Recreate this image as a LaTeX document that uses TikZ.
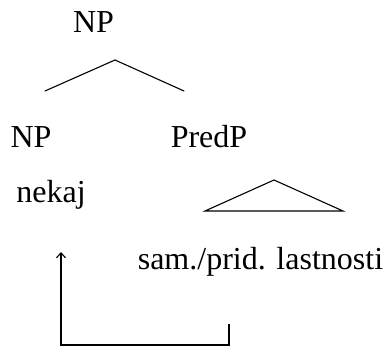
\documentclass[tikz,border=0pt]{standalone}
\usepackage{fontspec}
\setmainfont{Liberation Serif}
\usetikzlibrary{arrows.meta}
\begin{document}
\begin{tikzpicture}[x=1pt,y=-1pt,
  lbl/.style={anchor=base,inner sep=0pt,font=\fontsize{32}{38}\selectfont},
  edge/.style={line width=1.1pt,line cap=round},
  mover/.style={line width=1.1pt,-{Straight Barb[length=5pt,width=9pt]}}]
\useasboundingbox (0,0) rectangle (384,347);
\node[lbl] (top) at (93.5,33) {NP};
\node[lbl] (np) at (31,148) {NP};
\node[lbl] (predp) at (209,148) {PredP};
\node[lbl] (nekaj) at (51,203) {nekaj};
\node[lbl] (sam) at (260.5,270) {sam./prid. lastnosti};
\coordinate (apex) at (115,60);
\coordinate (lft) at (45,91);
\coordinate (rgt) at (184,91);
\draw[edge] (lft) -- (apex) -- (rgt);
\coordinate (tapex) at (274,180);
\coordinate (tl) at (205,211);
\coordinate (tr) at (343,211);
\draw[edge,line join=miter] (tapex) -- (tl) -- (tr) -- cycle;
\coordinate (s) at (229,324);
\coordinate (sb) at (229,345);
\coordinate (eb) at (61,345);
\coordinate (e) at (61,252);
\draw[mover] (s) -- (sb) -- (eb) -- (e);
\end{tikzpicture}
\end{document}
